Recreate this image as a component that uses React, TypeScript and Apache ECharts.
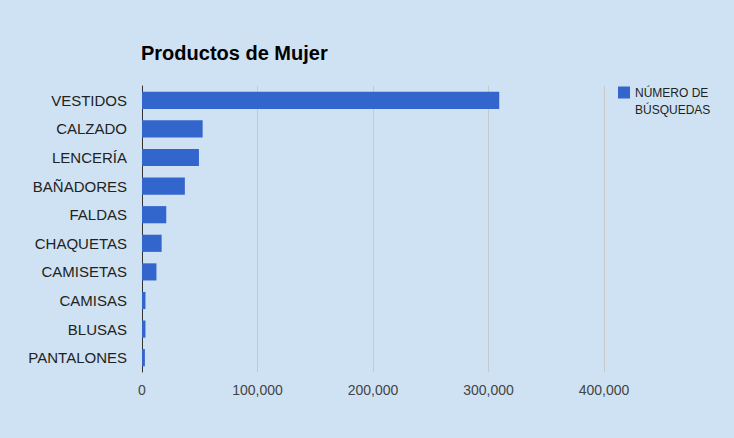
import React, { useEffect, useRef } from "react";
import * as echarts from "echarts";

const categories = ["VESTIDOS", "CALZADO", "LENCERÍA", "BAÑADORES", "FALDAS", "CHAQUETAS", "CAMISETAS", "CAMISAS", "BLUSAS", "PANTALONES"];
const searches = [309300, 52500, 49300, 37100, 21000, 17000, 12500, 3000, 3000, 2500];
const seriesName = "NÚMERO DE BÚSQUEDAS";
const titleText = "Productos de Mujer";

export default function App() {
  const ref = useRef<HTMLDivElement>(null);
  useEffect(() => {
    const chart = echarts.init(ref.current!, null, { renderer: "svg" });
    chart.setOption({
      animation: false,
      backgroundColor: "#cfe2f3",
      textStyle: { fontFamily: "Liberation Sans, Arial, sans-serif" },
      title: {
        text: titleText,
        left: 141,
        top: 43,
        padding: 0,
        textStyle: { fontSize: 20, fontWeight: "bold", color: "#000", fontFamily: "Liberation Sans, Arial, sans-serif" },
      },
      legend: {
        left: 618,
        top: 67,
        padding: 0,
        orient: "vertical",
        itemWidth: 12,
        itemHeight: 12,
        icon: "rect",
        itemGap: 6,
        formatter: () => "\nNÚMERO DE\nBÚSQUEDAS",
        textStyle: { fontSize: 12, color: "#222", lineHeight: 17 },
        data: [seriesName],
      },
      grid: { left: 142, right: 130, top: 86, bottom: 66 },
      xAxis: {
        type: "value",
        min: 0,
        max: 400000,
        interval: 100000,
        axisLine: { show: false },
        axisTick: { show: false },
        splitLine: { show: true, lineStyle: { color: "#c8c8c8", width: 1 } },
        axisLabel: {
          fontSize: 14,
          color: "#444",
          margin: 11,
          formatter: (v: number) => v.toLocaleString("en-US"),
        },
      },
      yAxis: {
        type: "category",
        data: categories,
        inverse: true,
        axisLine: { show: true, lineStyle: { color: "#333", width: 1 } },
        axisTick: { show: false },
        axisLabel: { fontSize: 15, color: "#222", margin: 15 },
      },
      series: [
        {
          name: seriesName,
          type: "bar",
          data: searches,
          barWidth: "60%",
          itemStyle: { color: "#3366cc" },
        },
      ],
    });
    return () => chart.dispose();
  }, []);
  return <div ref={ref} style={{ position: "fixed", left: 0, top: 0, width: 734, height: 438 }} />;
}
